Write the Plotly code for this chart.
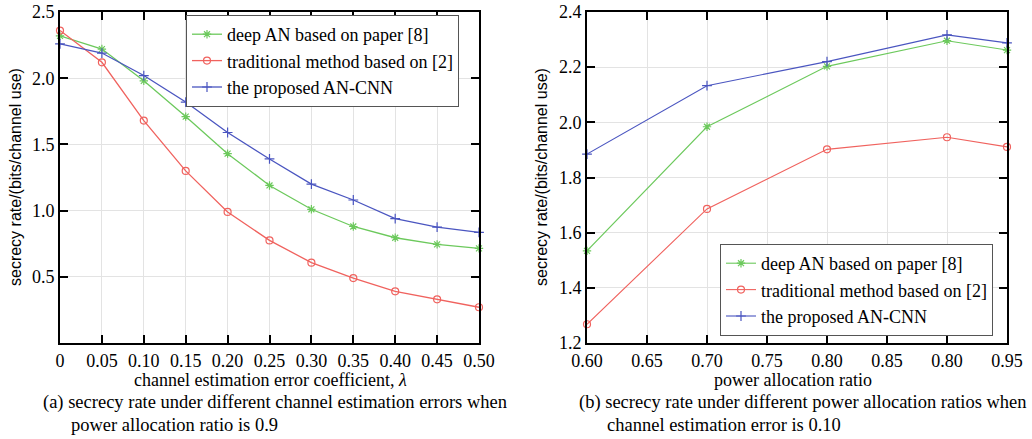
import plotly.graph_objects as go

# ---- data: panel (a) ----
lam = [0, 0.05, 0.10, 0.15, 0.20, 0.25, 0.30, 0.35, 0.40, 0.45, 0.50]
lam_ticks = [0, 0.05, 0.10, 0.15, 0.20, 0.25, 0.30, 0.35, 0.40, 0.45, 0.50]
lam_ticktext = ["0", "0.05", "0.10", "0.15", "0.20", "0.25", "0.30", "0.35", "0.40", "0.45", "0.50"]
a_deep_an = [2.32, 2.22, 1.98, 1.71, 1.43, 1.19, 1.01, 0.88, 0.795, 0.745, 0.715]
a_traditional = [2.36, 2.12, 1.68, 1.30, 0.99, 0.775, 0.607, 0.49, 0.39, 0.33, 0.27]
a_an_cnn = [2.26, 2.19, 2.02, 1.82, 1.59, 1.39, 1.20, 1.08, 0.94, 0.875, 0.835]
a_yticks = [0.5, 1.0, 1.5, 2.0, 2.5]
a_yticktext = ["0.5", "1.0", "1.5", "2.0", "2.5"]

# ---- data: panel (b) ----
ratio = [0.60, 0.70, 0.80, 0.90, 0.95]
ratio_ticks = [0.60, 0.65, 0.70, 0.75, 0.80, 0.85, 0.90, 0.95]
ratio_ticktext = ["0.60", "0.65", "0.70", "0.75", "0.80", "0.85", "0.80", "0.95"]
b_deep_an = [1.534, 1.984, 2.203, 2.296, 2.262]
b_traditional = [1.268, 1.686, 1.902, 1.946, 1.911]
b_an_cnn = [1.885, 2.133, 2.220, 2.317, 2.288]
b_yticks = [1.2, 1.4, 1.6, 1.8, 2.0, 2.2, 2.4]
b_yticktext = ["1.2", "1.4", "1.6", "1.8", "2.0", "2.2", "2.4"]

names = ["deep AN based on paper [8]", "traditional method based on [2]", "the proposed AN-CNN"]
colors = ["#6cc95c", "#f0625e", "#4a55c0"]
symbols = ["asterisk-open", "circle-open", "cross-thin-open"]

FONT = "'Liberation Serif', 'Times New Roman', Times, serif"
SANS = "'Liberation Sans', Arial, sans-serif"

fig = go.Figure()

for ys, nm, c, s in zip([a_deep_an, a_traditional, a_an_cnn], names, colors, symbols):
    fig.add_trace(go.Scatter(x=lam, y=ys, name=nm, mode="lines+markers",
                             line=dict(color=c, width=1.3),
                             marker=dict(symbol=s, size=7, color=c, line=dict(color=c, width=1.2)),
                             xaxis="x", yaxis="y", legend="legend", cliponaxis=False))
for ys, nm, c, s in zip([b_deep_an, b_traditional, b_an_cnn], names, colors, symbols):
    fig.add_trace(go.Scatter(x=ratio, y=ys, name=nm, mode="lines+markers",
                             line=dict(color=c, width=1.1),
                             marker=dict(symbol=s, size=7, color=c, line=dict(color=c, width=1.2)),
                             xaxis="x2", yaxis="y2", legend="legend2", cliponaxis=False))

axis_common = dict(showline=True, linecolor="black", linewidth=2, mirror="ticks",
                   ticks="inside", ticklen=8, tickwidth=2, tickcolor="black",
                   showgrid=True, gridcolor="#e3e3e3", gridwidth=1, zeroline=False,
                   automargin=False,
                   tickfont=dict(family=FONT, size=18, color="black"))

legend_common = dict(xanchor="left", bgcolor="white", bordercolor="#555", borderwidth=1,
                     font=dict(family=FONT, size=18, color="black"), tracegroupgap=0, itemwidth=30)

fig.update_layout(
    width=1032, height=439,
    margin=dict(l=0, r=0, t=0, b=0),
    paper_bgcolor="white", plot_bgcolor="white",
    font=dict(family=FONT, size=17, color="black"),
    xaxis=dict(domain=[60/1032, 479/1032], range=[0, 0.5], tickvals=lam_ticks, ticktext=lam_ticktext,
               anchor="y", **axis_common),
    yaxis=dict(domain=[1 - 343/439, 1 - 12/439], range=[0, 2.5], tickvals=a_yticks, ticktext=a_yticktext,
               anchor="x", **axis_common),
    xaxis2=dict(domain=[587/1032, 1007/1032], range=[0.6, 0.95], tickvals=ratio_ticks, ticktext=ratio_ticktext,
                anchor="y2", **axis_common),
    yaxis2=dict(domain=[1 - 343/439, 1 - 12/439], range=[1.2, 2.4], tickvals=b_yticks, ticktext=b_yticktext,
                anchor="x2", **axis_common),
    legend=dict(x=186/1032, y=1 - 15/439, yanchor="top", **legend_common),
    legend2=dict(x=720/1032, y=1 - 336/439, yanchor="bottom", **legend_common),
    showlegend=True,
)

# axis titles and captions as positioned text
texts = [
    ("channel estimation error coefficient, <i>λ</i>", 270, 380, "center", 0, FONT, 18),
    ("power allocation ratio", 793, 380, "center", 0, FONT, 18),
    ("secrecy rate/(bits/channel use)", 16, 177, "center", -90, SANS, 16),
    ("secrecy rate/(bits/channel use)", 542, 177, "center", -90, SANS, 16),
    ("(a) secrecy rate under different channel estimation errors when", 41, 402, "left", 0, FONT, 18.5),
    ("power allocation ratio is 0.9", 69, 425, "left", 0, FONT, 18.5),
    ("(b) secrecy rate under different power allocation ratios when", 577, 402, "left", 0, FONT, 18.5),
    ("channel estimation error is 0.10", 605, 425, "left", 0, FONT, 18.5),
]
for txt, px, py, anc, ang, fam, sz in texts:
    fig.add_annotation(text=txt, x=px / 1032, y=1 - py / 439, xref="paper", yref="paper",
                       xanchor=anc, yanchor="middle", showarrow=False, textangle=ang,
                       font=dict(family=fam, size=sz, color="black"))

fig.write_html("out.html", config={"displayModeBar": False},
               post_script="document.body.style.margin='0px';document.body.style.overflow='hidden';")
